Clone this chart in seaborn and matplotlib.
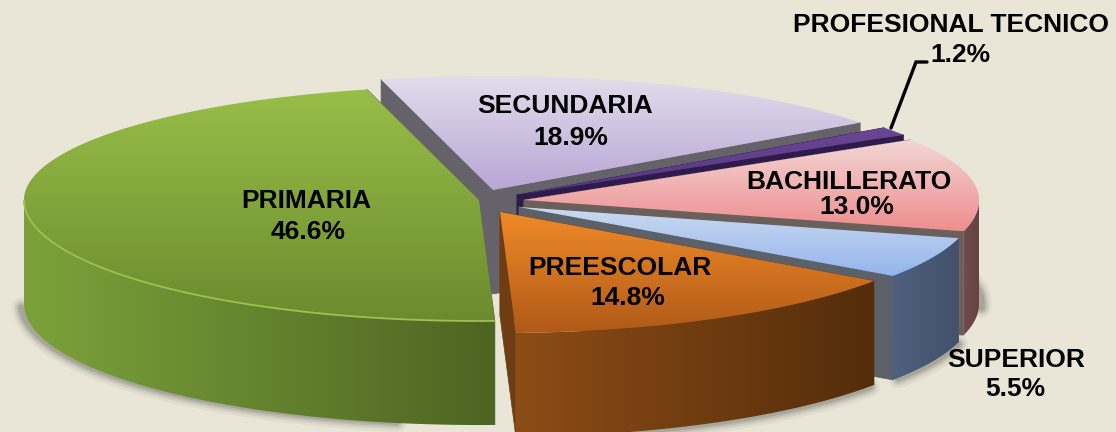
import numpy as np
import seaborn as sns
import matplotlib.pyplot as plt
from matplotlib.patches import Polygon

categories = ['PRIMARIA', 'SECUNDARIA', 'PROFESIONAL TECNICO', 'BACHILLERATO', 'SUPERIOR', 'PREESCOLAR']
shares = [46.6, 18.9, 1.2, 13.0, 5.5, 14.8]

# styles, same order as categories
top_colors = [('#98BE48', '#6C8B2E'), ('#E2DDEC', '#B9A6D5'), ('#6A4795', '#55367F'),
              ('#F3D6D6', '#EE8E8E'), ('#CBDAF0', '#93B5EC'), ('#F08A28', '#B05A18')]
rim_colors = [('#7BA23A', '#4E6522'), ('#6A6670', '#6A6670'), ('#2E1A4B', '#2E1A4B'),
              ('#6F4C4C', '#664343'), ('#4F5F7E', '#43516B'), ('#8C4C16', '#542D0B')]
side_colors = ['#5F5C66', '#65626A', '#2E1A4B', '#6B5F5C', '#5C6068', '#6E3E12']
explode_x = [-22, -8, 16, 23, 18, -1]
explode_y = [-1, -11, -6, -1, 6, 11]
name_x = [306, 565, 951, 849, 1016, 620]
name_y = [201, 106, 25, 182, 360, 268]
value_x = [308, 571, 960, 857, 1015, 628]
value_y = [232, 138, 55, 207, 389, 298]
draw_order = [1, 2, 3, 4, 0, 5]

center_x, center_y = 501, 201
rx, ry_back, ry_front = 455, 114, 121
depth = 104
start_angle = -88


def rim_xy(theta):
    theta = np.radians(theta)
    s = np.sin(theta)
    return rx * np.cos(theta), -np.where(s > 0, ry_back, ry_front) * s


def fill_gradient(ax, pts, colors, horizontal=False, zorder=2):
    pts = np.asarray(pts)
    cmap = sns.blend_palette(colors, as_cmap=True)
    ramp = np.linspace(0, 1, 200)
    ramp = ramp[None, :] if horizontal else ramp[:, None]
    extent = (pts[:, 0].min(), pts[:, 0].max(), pts[:, 1].max(), pts[:, 1].min())
    im = ax.imshow(ramp, cmap=cmap, extent=extent, aspect='auto', origin='upper', zorder=zorder)
    im.set_clip_path(Polygon(pts, transform=ax.transData))


sns.set_theme(style='white')
plt.rcParams['font.family'] = ['Liberation Sans', 'DejaVu Sans']
bg = '#E9E6D7'
fig = plt.figure(figsize=(11.16, 4.32), dpi=100, facecolor=bg)
ax = fig.add_axes([0, 0, 1, 1], facecolor=bg)

sweep = np.array(shares) / sum(shares) * 360
ends = start_angle - np.cumsum(sweep)
starts = ends + sweep

# soft shadow under the outer edge
for i, a0, a1, dx, dy in [(0, -178, -100, -3, -1), (3, -362, -346, 3, 0), (4, -394, -376, 2, 0), (5, -447, -396, 2, 0)]:
    ang = np.linspace(a0, a1, 120)
    ex, ey = rim_xy(ang)
    sx = center_x + explode_x[i] + ex + dx
    sy = center_y + explode_y[i] + ey + depth + dy
    for w, al in zip([14, 10, 7, 4], [0.08, 0.12, 0.18, 0.25]):
        ax.plot(sx, sy, color='#6A6A62', alpha=al, lw=w, solid_capstyle='round', zorder=1)

for n, i in enumerate(draw_order):
    z = 2 + n
    ax0 = center_x + explode_x[i]
    ay0 = center_y + explode_y[i]
    # a slice runs clockwise from starts[i] down to ends[i]
    ang = np.linspace(starts[i], ends[i], 160)
    ex, ey = rim_xy(ang)
    edge = np.column_stack([ax0 + ex, ay0 + ey])
    apex = np.array([ax0, ay0])

    # cut faces
    for a in (starts[i], ends[i]):
        px, py = rim_xy(a)
        corner = apex + [float(px), float(py)]
        face = [apex, corner, corner + [0, depth], apex + [0, depth]]
        ax.add_patch(Polygon(face, closed=True, fc=side_colors[i], ec=side_colors[i], lw=0.5, zorder=z))

    # outer wall, only the front part shows
    wall = ang[np.sin(np.radians(ang)) <= 0]
    if len(wall):
        wx, wy = rim_xy(wall)
        upper = np.column_stack([ax0 + wx, ay0 + wy])
        lower = upper[::-1] + [0, depth]
        fill_gradient(ax, np.vstack([upper, lower]), rim_colors[i], horizontal=True, zorder=z)

    # top face
    top = np.vstack([apex, edge])
    fill_gradient(ax, top, top_colors[i], zorder=z)
    if i == 0:
        ax.plot(upper[:, 0], upper[:, 1], color='#9CC24F', lw=1.3, zorder=z)

# leader line for the small slice
ax.plot([891, 916, 927], [128, 62, 62], color='black', lw=2.4, solid_joinstyle='miter', zorder=20)

for name, value, nx, ny, vx, vy in zip(categories, shares, name_x, name_y, value_x, value_y):
    ax.text(nx, ny, name, ha='center', va='center', fontsize=19, fontweight='bold', color='black', zorder=21)
    ax.text(vx, vy, f'{value:.1f}%', ha='center', va='center', fontsize=19, fontweight='bold', color='black', zorder=21)

ax.set_xlim(0, 1116)
ax.set_ylim(432, 0)
ax.axis('off')
fig.savefig('out.png', dpi=100, facecolor=bg)
